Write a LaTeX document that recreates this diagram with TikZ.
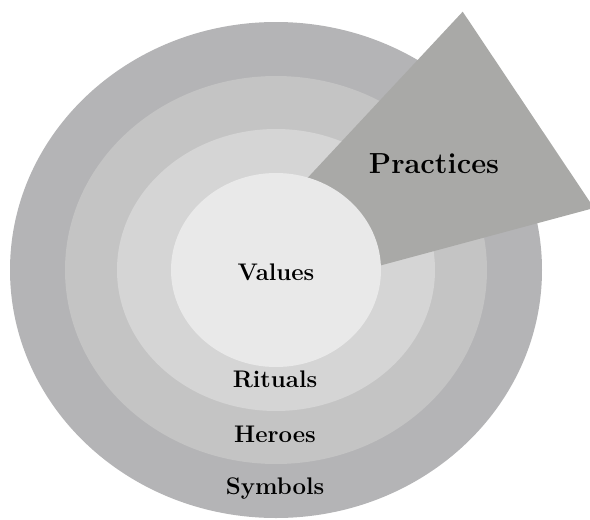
\documentclass[tikz,border=0pt]{standalone}
\usepackage{tikz}
\usetikzlibrary{positioning}
\usepackage{xcolor}
\definecolor{cSym}{HTML}{B4B4B6}
\definecolor{cHer}{HTML}{C4C4C4}
\definecolor{cRit}{HTML}{D5D5D5}
\definecolor{cVal}{HTML}{E9E9E9}
\definecolor{cPra}{HTML}{A9A9A7}

\begin{document}
\begin{tikzpicture}[x=1pt, y=-1pt,
    lbl/.style={font=\fontsize{24}{28}\selectfont\bfseries, anchor=base, inner sep=0pt}]
  \useasboundingbox (0,0) rectangle (590,520);
  \clip (0,0) rectangle (590,520);
  \coordinate (c) at (276,270);
  % outer layers
  \foreach \rx/\ry/\col in {266/248/cSym, 211/194/cHer, 159/141/cRit}{
    \fill[\col] (c) ellipse [x radius=\rx pt, y radius=\ry pt];
  }
  % practices arrow
  \coordinate (apex) at (462.7,11.7);
  \coordinate (tip) at (594,208);
  \fill[cPra] (300,186) -- (apex) -- (tip) -- (360,271) -- cycle;
  % core
  \fill[cVal] (c) ellipse [x radius=105pt, y radius=97pt];
  \node[lbl] (values) at (276,280) {Values};
  \node[lbl] (rituals) at (275,387) {Rituals};
  \node[lbl] (heroes) at (275,442) {Heroes};
  \node[lbl] (symbols) at (275,494) {Symbols};
  \node[lbl, font=\fontsize{29}{34}\selectfont\bfseries] (practices) at (434,173) {Practices};
\end{tikzpicture}
\end{document}
